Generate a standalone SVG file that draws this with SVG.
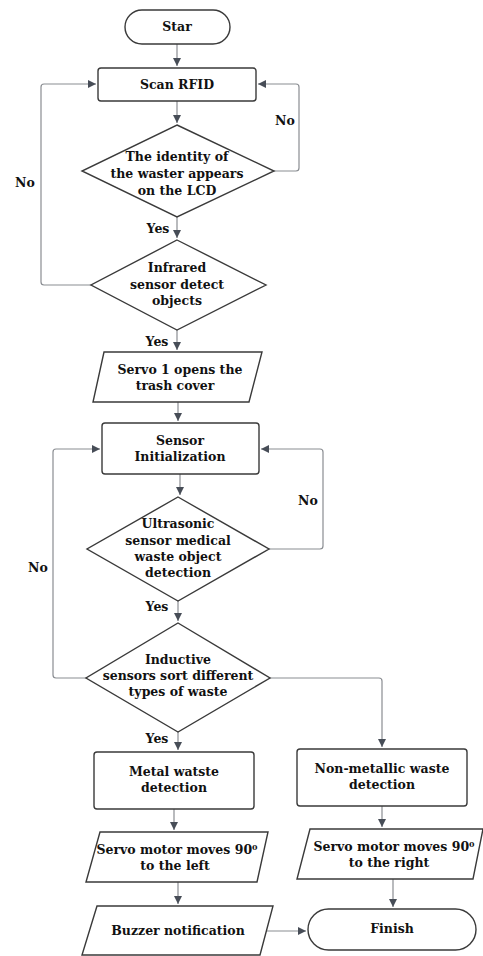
<svg xmlns="http://www.w3.org/2000/svg" width="483" height="956" viewBox="0 0 483 956">
<style>
.s{fill:#fff;stroke:#3a3a3a;stroke-width:1.4}
.t{font-family:"DejaVu Serif","Liberation Serif",serif;font-weight:bold;font-size:12.5px;fill:#111;text-anchor:middle}
.c{fill:none;stroke:#8a8d92;stroke-width:1.2}
</style>
<defs>
<marker id="a" markerWidth="10" markerHeight="10" refX="8" refY="4" orient="auto" markerUnits="userSpaceOnUse">
<path d="M0,0 L8,4 L0,8 Z" fill="#474d57"/>
</marker>
</defs>
<rect width="483" height="956" fill="#fff"/>
<g id="connectors">
<path class="c" d="M177,44 V66" marker-end="url(#a)"/>
<path class="c" d="M177,101 V123" marker-end="url(#a)"/>
<path class="c" d="M274,171 H296 Q299,171 299,168 V87 Q299,84 296,84 H258" marker-end="url(#a)"/>
<path class="c" d="M177,217 V238" marker-end="url(#a)"/>
<path class="c" d="M91,285 H44 Q41,285 41,282 V87 Q41,84 44,84 H96" marker-end="url(#a)"/>
<path class="c" d="M177,330 V350" marker-end="url(#a)"/>
<path class="c" d="M178,402 V421" marker-end="url(#a)"/>
<path class="c" d="M180,474 V495" marker-end="url(#a)"/>
<path class="c" d="M269,549 H320 Q323,549 323,546 V452 Q323,449 320,449 H261" marker-end="url(#a)"/>
<path class="c" d="M178,601 V621" marker-end="url(#a)"/>
<path class="c" d="M86,678 H56 Q53,678 53,675 V452 Q53,449 56,449 H100" marker-end="url(#a)"/>
<path class="c" d="M270,678 H379 Q382,678 382,681 V747" marker-end="url(#a)"/>
<path class="c" d="M178,732 V750" marker-end="url(#a)"/>
<path class="c" d="M174,809 V830" marker-end="url(#a)"/>
<path class="c" d="M382,806 V827" marker-end="url(#a)"/>
<path class="c" d="M178,882 V904" marker-end="url(#a)"/>
<path class="c" d="M393,879 V907" marker-end="url(#a)"/>
<path class="c" d="M267,931 H306" marker-end="url(#a)"/>
</g>
<g id="labels">
<text class="t" x="285" y="125">No</text>
<text class="t" x="25" y="187">No</text>
<text class="t" x="158" y="233">Yes</text>
<text class="t" x="157" y="346">Yes</text>
<text class="t" x="308" y="505">No</text>
<text class="t" x="38" y="572">No</text>
<text class="t" x="157" y="611">Yes</text>
<text class="t" x="157" y="743">Yes</text>
</g>
<g id="start">
<rect class="s" x="125" y="10" width="105" height="34" rx="17"/>
<text class="t" x="177" y="31">Star</text>
</g>
<g id="scan">
<rect class="s" x="98" y="68" width="158" height="33" rx="3"/>
<text class="t" x="177" y="89">Scan RFID</text>
</g>
<g id="identity">
<polygon class="s" points="177,125 274,171 177,217 82,171"/>
<text class="t" x="177" y="161">The identity of</text>
<text class="t" x="177" y="178">the waster appears</text>
<text class="t" x="177" y="195">on the LCD</text>
</g>
<g id="infrared">
<polygon class="s" points="177,240 266,285 177,330 91,285"/>
<text class="t" x="177" y="272">Infrared</text>
<text class="t" x="177" y="289">sensor detect</text>
<text class="t" x="177" y="305">objects</text>
</g>
<g id="servo1">
<polygon class="s" points="104,352 262,352 249,402 93,402"/>
<text class="t" x="180" y="374">Servo 1 opens the</text>
<text class="t" x="175" y="390">trash cover</text>
</g>
<g id="sensorinit">
<rect class="s" x="102" y="423" width="157" height="51" rx="3"/>
<text class="t" x="180" y="445">Sensor</text>
<text class="t" x="180" y="461">Initialization</text>
</g>
<g id="ultrasonic">
<polygon class="s" points="178,497 269,549 178,601 87,549"/>
<text class="t" x="178" y="528">Ultrasonic</text>
<text class="t" x="178" y="545">sensor medical</text>
<text class="t" x="178" y="561">waste object</text>
<text class="t" x="178" y="577">detection</text>
</g>
<g id="inductive">
<polygon class="s" points="178,623 270,678 178,732 86,678"/>
<text class="t" x="178" y="664">Inductive</text>
<text class="t" x="178" y="680">sensors sort different</text>
<text class="t" x="178" y="696">types of waste</text>
</g>
<g id="metal">
<rect class="s" x="94" y="752" width="160" height="57" rx="3"/>
<text class="t" x="174" y="776">Metal watste</text>
<text class="t" x="174" y="792">detection</text>
</g>
<g id="nonmetal">
<rect class="s" x="297" y="749" width="170" height="57" rx="3"/>
<text class="t" x="382" y="773">Non-metallic waste</text>
<text class="t" x="382" y="789">detection</text>
</g>
<g id="servoleft">
<polygon class="s" points="100,832 268,832 257,882 86,882"/>
<text class="t" x="177" y="854">Servo motor moves 90⁰</text>
<text class="t" x="175" y="870">to the left</text>
</g>
<g id="servoright">
<polygon class="s" points="310,829 483,829 473,879 297,879"/>
<text class="t" x="394" y="851">Servo motor moves 90⁰</text>
<text class="t" x="389" y="867">to the right</text>
</g>
<g id="buzzer">
<polygon class="s" points="97,906 273,906 260,955 82,955"/>
<text class="t" x="178" y="935">Buzzer notification</text>
</g>
<g id="finish">
<rect class="s" x="308" y="909" width="168" height="41" rx="20.5"/>
<text class="t" x="392" y="933">Finish</text>
</g>
</svg>
